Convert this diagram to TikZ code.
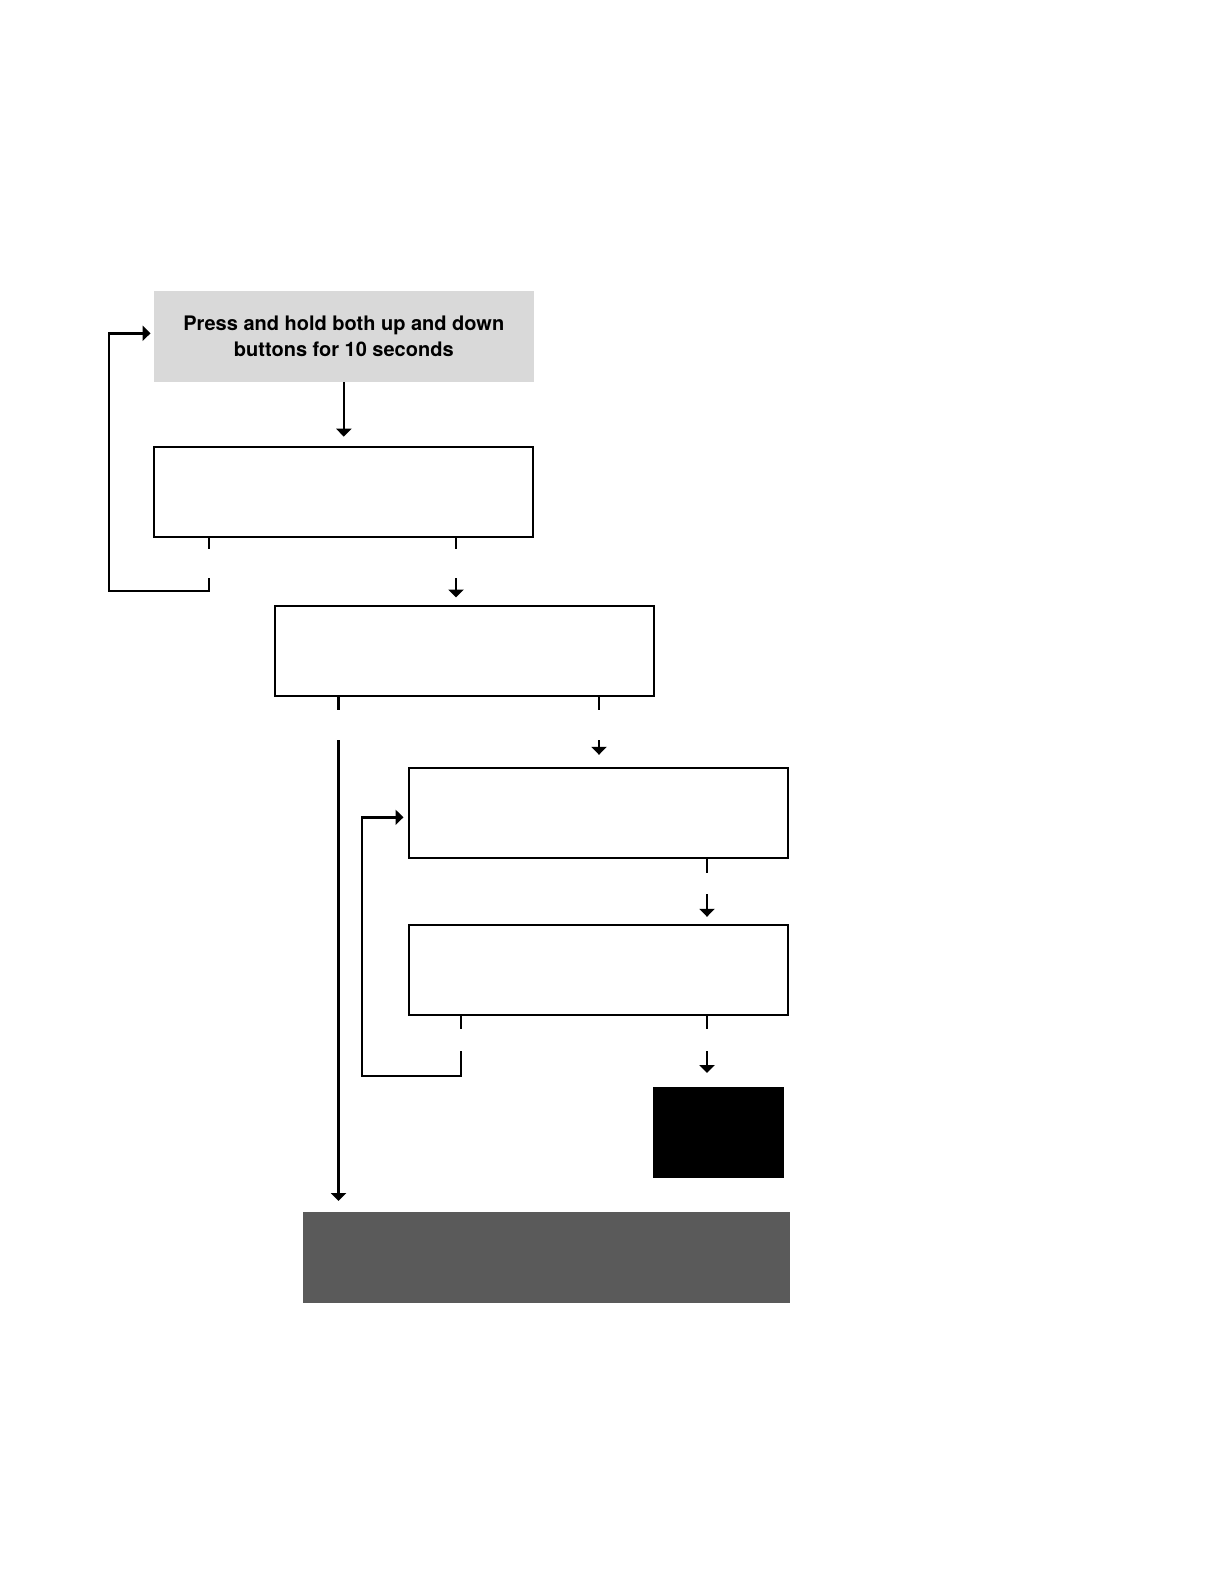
\documentclass[tikz,border=0pt]{standalone}
\usepackage{fontspec}
\setmainfont{TeX Gyre Heros}
\usetikzlibrary{arrows.meta}
\definecolor{startgray}{HTML}{D9D9D9}
\definecolor{endgray}{HTML}{5A5A5A}
\begin{document}
\begin{tikzpicture}[x=0.5pt,y=-0.5pt,
  flow/.style={draw=black,line width=1pt,minimum width=189.5pt,minimum height=45pt,inner sep=0pt,outer sep=0pt},
  solid box/.style={minimum height=45.5pt,inner sep=0pt,outer sep=0pt},
  conn/.style={line width=1.2pt},
  arr/.style={conn,-{Triangle[width=7.5pt,length=4pt]}}]
\useasboundingbox (0,0) rectangle (1224,1584);
\node[solid box, fill=startgray, minimum width=190.25pt, minimum height=45.75pt, align=center,
      font=\bfseries\fontsize{10}{13}\selectfont] (start) at (343.8,336.7)
      {Press and hold both up and down\\buttons for 10 seconds};
\node[flow] (b2) at (343.8,491.7) {};
\node[flow] (b3) at (464,650.5) {};
\node[flow] (b4) at (598,812.8) {};
\node[flow] (b5) at (598,969.8) {};
\node[solid box, fill=black, minimum width=65.4pt] (stop) at (718.4,1132.5) {};
\node[solid box, fill=endgray, minimum width=243.5pt] (done) at (546.5,1257.5) {};

% start -> b2
\draw[arr,shorten >=5pt] (start.south) -- (b2.north);

% b2 -> start (loop back)
\coordinate (a1) at (209,549); \coordinate (a2) at (209,578);
\draw[conn] (b2.south -| a1) -- (a1);
\draw[arr,shorten >=1.5pt] (a2) |- (109,591) |- ([yshift=1.7pt]start.west);

% b2 -> b3
\coordinate (c1) at (456,549); \coordinate (c2) at (456,578);
\draw[conn] (b2.south -| c1) -- (c1);
\draw[arr,shorten >=4pt] (c2) -- (b3.north -| c2);

% b3 -> done
\coordinate (d1) at (338.5,710); \coordinate (d2) at (338.5,740);
\draw[conn] (b3.south -| d1) -- (d1);
\draw[arr,shorten >=5.5pt] (d2) -- (done.north -| d2);

% b3 -> b4
\coordinate (e1) at (599,710); \coordinate (e2) at (599,740);
\draw[conn] (b3.south -| e1) -- (e1);
\draw[arr,shorten >=6.5pt] (e2) -- (b4.north -| e2);

% b4 -> b5
\coordinate (f1) at (707,872.7); \coordinate (f2) at (707,894.3);
\draw[conn] (b4.south -| f1) -- (f1);
\draw[arr,shorten >=4pt] (f2) -- (b5.north -| f2);

% b5 -> b4 (loop back)
\coordinate (g1) at (460.7,1029.3); \coordinate (g2) at (460.7,1051);
\draw[conn] (b5.south -| g1) -- (g1);
\draw[arr,shorten >=2.5pt] (g2) |- (361.7,1076) |- ([yshift=-2.25pt]b4.west);

% b5 -> stop
\coordinate (h1) at (707,1029.3); \coordinate (h2) at (707,1051);
\draw[conn] (b5.south -| h1) -- (h1);
\draw[arr,shorten >=7pt] (h2) -- (stop.north -| h2);
\end{tikzpicture}
\end{document}
